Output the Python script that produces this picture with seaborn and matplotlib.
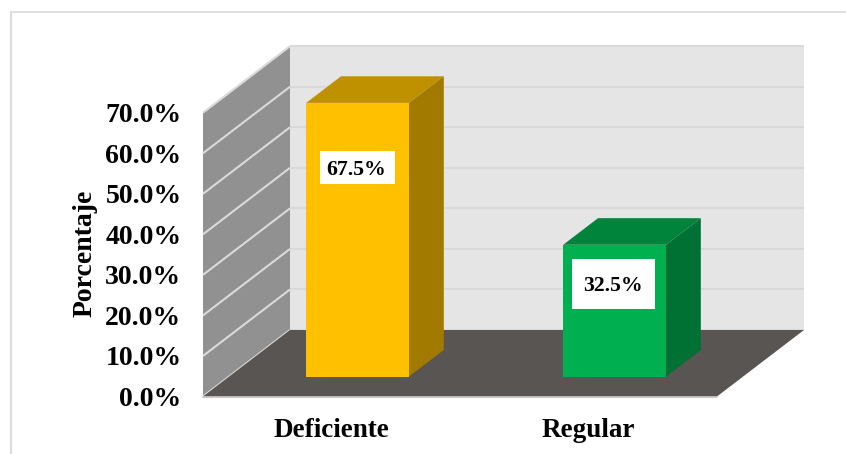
import matplotlib
matplotlib.use("Agg")
import matplotlib.pyplot as plt
from matplotlib.lines import Line2D
from matplotlib.patches import Rectangle
import pandas as pd
import seaborn as sns

categories = ["Deficiente", "Regular"]
values = [67.5, 32.5]
tick_values = [0, 10, 20, 30, 40, 50, 60, 70]

front_colors = ["#FFC000", "#00B050"]
top_colors = ["#BF9000", "#00843C"]
side_colors = ["#A37A00", "#007033"]

WALL_SIDE = "#919191"
WALL_BACK = "#E5E5E5"
FLOOR = "#595553"
GRID_BACK = "#D9D9D9"
GRID_SIDE = "#DADADA"

sns.set_theme(style="white")
plt.rcParams["font.family"] = ["Liberation Serif", "DejaVu Serif"]

W, H = 846, 454
fig = plt.figure(figsize=(W / 100, H / 100), dpi=100, facecolor="white")
ax = fig.add_axes([203 / W, (H - 396.5) / H, 514 / W, 283.8 / H])

df = pd.DataFrame({"cat": categories, "val": values})
sns.barplot(data=df, x="cat", y="val", hue="cat", palette=front_colors,
            width=0.4, legend=False, ax=ax, saturation=1, zorder=5)
bars = [p for p in ax.patches if isinstance(p, Rectangle)]

ax.set_xlim(-0.5, 1.5)
ax.set_ylim(0, 70)

# oblique projection depth of the floor, in data units
DX = 87 / 257
DY = 66.5 / (283.8 / 70)


def pr(x, y, d):
    return x + DX * d, y + DY * d


def poly(points, color, z):
    xs, ys = zip(*points)
    ax.fill(xs, ys, color=color, lw=0, clip_on=False, zorder=z)


x0, x1 = -0.5, 1.5
top = tick_values[-1]

poly([pr(x0, 0, 0), pr(x0, 0, 1), pr(x0, top, 1), pr(x0, top, 0)], WALL_SIDE, 1)
poly([pr(x0, 0, 1), pr(x1, 0, 1), pr(x1, top, 1), pr(x0, top, 1)], WALL_BACK, 1)
poly([pr(x0, 0, 0), pr(x1, 0, 0), pr(x1, 0, 1), pr(x0, 0, 1)], FLOOR, 2)

for t in tick_values:
    a, b, c = pr(x0, t, 0), pr(x0, t, 1), pr(x1, t, 1)
    ax.plot([a[0], b[0]], [a[1], b[1]], color=GRID_SIDE, lw=1.5,
            clip_on=False, zorder=1.5, solid_capstyle="butt")
    ax.plot([b[0], c[0]], [b[1], c[1]], color=GRID_BACK, lw=1.5,
            clip_on=False, zorder=1.5, solid_capstyle="butt")
ax.plot([x0, x1], [0, 0], color="#BFBFBF", lw=1.2, clip_on=False, zorder=3)

# Shift the seaborn bars into the 3D box and add their top and side faces
D_FRONT, D_BACK = 0.3, 0.7
for patch, v, ctop, cside in zip(bars, values, top_colors, side_colors):
    w = patch.get_width()
    l = patch.get_x()
    r = l + w
    patch.set_x(pr(l, 0, D_FRONT)[0])
    patch.set_y(pr(l, 0, D_FRONT)[1])
    patch.set_clip_on(False)
    patch.set_linewidth(0)
    poly([pr(l, v, D_FRONT), pr(r, v, D_FRONT), pr(r, v, D_BACK), pr(l, v, D_BACK)], ctop, 4)
    poly([pr(r, 0, D_FRONT), pr(r, 0, D_BACK), pr(r, v, D_BACK), pr(r, v, D_FRONT)], cside, 4)

# value labels on white boxes
box_y = [56.5, 27.75]
text_y = [55.9, 27.2]
box_w = [75 / 257, 83 / 257]
box_h = [33 / 4.054, 50 / 4.054]
box_dx = [0.0, -1 / 257]
text_dx = [-1 / 257, -2 / 257]
for i, v in enumerate(values):
    cx = pr(i, 0, D_FRONT)[0] + box_dx[i]
    ax.add_patch(Rectangle((cx - box_w[i] / 2, box_y[i] - box_h[i] / 2), box_w[i], box_h[i],
                           facecolor="white", edgecolor="none", zorder=6))
    ax.text(pr(i, 0, D_FRONT)[0] + text_dx[i], text_y[i], f"{v:.1f}%", ha="center", va="center",
            fontsize=15.7, fontweight="bold", color="black", zorder=7)

ax.set_yticks(tick_values)
ax.set_yticklabels([f"{t:.1f}%" for t in tick_values], fontsize=20, fontweight="bold", color="black")
ax.set_xticks(range(len(categories)))
ax.set_xticklabels(categories, fontsize=19.5, fontweight="bold", color="black")
ax.tick_params(axis="y", length=0, pad=15.5)
ax.tick_params(axis="x", length=0, pad=15.5)
ax.set_xlabel("")
ax.set_ylabel("Porcentaje", fontsize=20, fontweight="bold", color="black")
ax.yaxis.set_label_coords((98 - 203) / 514, 0.505)
ax.patch.set_visible(False)
sns.despine(ax=ax, left=True, bottom=True)

# thin frame of the pasted picture
fig.add_artist(Line2D([11 / W, 11 / W], [0, (H - 12) / H], color="#DCDCDC", lw=1.6))
fig.add_artist(Line2D([11 / W, 1], [(H - 12) / H, (H - 12) / H], color="#DCDCDC", lw=1.2))

fig.savefig("out.png", dpi=100, facecolor="white")
